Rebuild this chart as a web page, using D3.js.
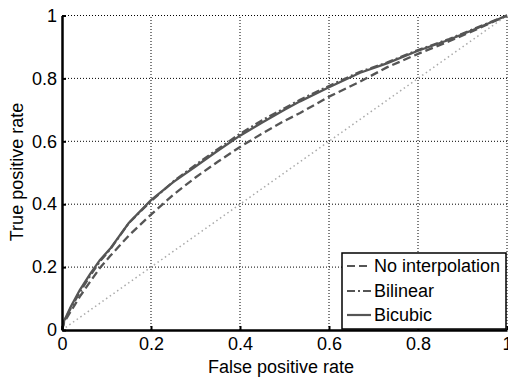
<!DOCTYPE html>
<html><head><meta charset="utf-8">
<script src="https://cdn.jsdelivr.net/npm/d3@7"></script>
<style>
html,body{margin:0;padding:0;background:#fff;}
svg text{font-family:"Liberation Sans",Arial,Helvetica,sans-serif;fill:#000;}
</style></head>
<body><svg id="c" width="508" height="381"></svg>
<script>
const fpr = [0, 0.005, 0.02, 0.04, 0.063, 0.085, 0.108, 0.15, 0.2, 0.25, 0.3, 0.35, 0.4, 0.45, 0.5, 0.535, 0.6, 0.67, 0.73, 0.8, 0.87, 0.93, 1];
const tprNoInterp = [0, 0.025, 0.06, 0.106, 0.153, 0.197, 0.235, 0.30, 0.367, 0.43, 0.485, 0.535, 0.582, 0.625, 0.665, 0.69, 0.742, 0.79, 0.835, 0.878, 0.918, 0.955, 1];
const tprBilinear = [0, 0.028, 0.07, 0.12, 0.172, 0.218, 0.256, 0.34, 0.41, 0.472, 0.525, 0.575, 0.624, 0.667, 0.705, 0.732, 0.776, 0.821, 0.85, 0.89, 0.925, 0.96, 1];
const tprBicubic = [0, 0.03, 0.075, 0.127, 0.178, 0.222, 0.258, 0.34, 0.413, 0.47, 0.52, 0.57, 0.618, 0.66, 0.7, 0.727, 0.772, 0.818, 0.848, 0.888, 0.923, 0.958, 1];
const seriesNames = ["No interpolation", "Bilinear", "Bicubic"];
const xTicks = [0, 0.2, 0.4, 0.6, 0.8, 1];
const yTicks = [0, 0.2, 0.4, 0.6, 0.8, 1];
const xTickLabels = ["0", "0.2", "0.4", "0.6", "0.8", "1"];
const yTickLabels = ["0", "0.2", "0.4", "0.6", "0.8", "1"];

const svg = d3.select("#c");
const x = d3.scaleLinear().domain([0, 1]).range([62, 507]);
const y = d3.scaleLinear().domain([0, 1]).range([330, 15.5]);
const lineColor = "#555";
const styles = [
  {dash: "8,4"},
  {dash: "8,3,2,3"},
  {dash: null}
];
const tprs = [tprNoInterp, tprBilinear, tprBicubic];

// grid
const g = svg.append("g");
g.selectAll(".gx").data(xTicks.filter(d => d > 0)).join("line")
  .attr("x1", d => x(d)).attr("x2", d => x(d)).attr("y1", y(0)).attr("y2", y(1))
  .attr("stroke", "#000").attr("stroke-width", 1).attr("stroke-dasharray", "1,2");
g.selectAll(".gy").data(yTicks.filter(d => d > 0)).join("line")
  .attr("y1", d => y(d)).attr("y2", d => y(d)).attr("x1", x(0)).attr("x2", x(1))
  .attr("stroke", "#000").attr("stroke-width", 1).attr("stroke-dasharray", "1,2");

// diagonal
svg.append("line").attr("x1", x(0)).attr("y1", y(0)).attr("x2", x(1)).attr("y2", y(1))
  .attr("stroke", "#aaa").attr("stroke-width", 1.5).attr("stroke-dasharray", "1.5,3");

// curves
const line = d3.line().x((d, i) => x(fpr[i])).y(d => y(d));
tprs.forEach((t, k) => {
  svg.append("path").datum(t).attr("d", line).attr("fill", "none")
    .attr("stroke", lineColor).attr("stroke-width", 2.3)
    .attr("stroke-dasharray", styles[k].dash);
});

// axes
const xAxis = d3.axisBottom(x).tickValues(xTicks).tickFormat((d, i) => xTickLabels[i]).tickSizeInner(-4).tickSizeOuter(0).tickPadding(7);
const yAxis = d3.axisLeft(y).tickValues(yTicks).tickFormat((d, i) => yTickLabels[i]).tickSizeInner(-4).tickSizeOuter(0).tickPadding(5);
const gx = svg.append("g").attr("transform", `translate(0,${y(0)})`).call(xAxis);
const gy = svg.append("g").attr("transform", `translate(${x(0)},0)`).call(yAxis);
[gx, gy].forEach(a => {
  a.select(".domain").attr("stroke", "#000").attr("stroke-width", 2.5);
  a.selectAll(".tick line").attr("stroke", "#000").attr("stroke-width", 2);
  a.selectAll(".tick text").attr("font-size", 18).attr("font-family", "Liberation Sans, Arial, sans-serif").attr("fill", "#000");
});
gx.selectAll(".tick text").attr("dy", "0.71em");

// axis labels
svg.append("text").attr("x", 281).attr("y", 373).attr("text-anchor", "middle")
  .attr("font-size", 18).text("False positive rate");
svg.append("text").attr("transform", `translate(23,172) rotate(-90)`).attr("text-anchor", "middle")
  .attr("font-size", 18).text("True positive rate");

// legend
const lg = svg.append("g");
lg.append("rect").attr("x", 342).attr("y", 253).attr("width", 164).attr("height", 76)
  .attr("fill", "#fff").attr("stroke", "#000").attr("stroke-width", 1.5);
const rowY = [266, 291, 315];
seriesNames.forEach((name, k) => {
  lg.append("line").attr("x1", 347).attr("x2", 371).attr("y1", rowY[k]).attr("y2", rowY[k])
    .attr("stroke", lineColor).attr("stroke-width", 2.2).attr("stroke-dasharray", styles[k].dash);
  lg.append("text").attr("x", 374).attr("y", rowY[k]).attr("dy", "0.35em")
    .attr("font-size", 18).text(name);
});
</script></body></html>
